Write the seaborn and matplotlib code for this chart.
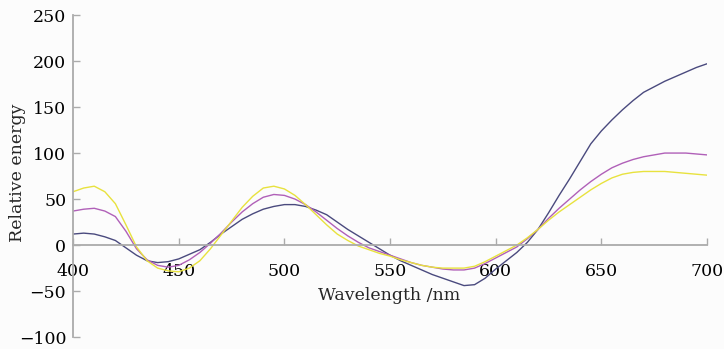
import matplotlib
matplotlib.use("Agg")
import matplotlib.pyplot as plt
import pandas as pd
import seaborn as sns

# wavelength grid (nm), 5 nm steps, and relative energy of the three curves
wavelength = list(range(400, 701, 5))
navy_curve = [12, 13, 12, 9, 5, -3, -11, -17, -19, -18,
              -15, -10, -5, 3, 12, 20, 28, 34, 39, 42,
              44, 44, 42, 38, 33, 25, 17, 10, 3, -4,
              -11, -17, -22, -27, -32, -36, -40, -44, -43, -36,
              -26, -17, -8, 3, 17, 35, 54, 72, 91, 110,
              124, 136, 147, 157, 166, 172, 178, 183, 188, 193,
              197]
purple_curve = [37, 39, 40, 37, 31, 15, -4, -16, -22, -24,
                -22, -16, -8, 2, 13, 25, 36, 45, 52, 55,
                54, 50, 44, 36, 27, 18, 10, 3, -3, -7,
                -11, -15, -19, -22, -24, -26, -27, -27, -25, -20,
                -14, -8, -2, 7, 17, 29, 40, 50, 60, 69,
                77, 84, 89, 93, 96, 98, 100, 100, 100, 99,
                98]
yellow_curve = [58, 62, 64, 58, 45, 22, -2, -17, -25, -28,
                -29, -25, -17, -4, 11, 26, 41, 53, 62, 64,
                61, 54, 44, 33, 22, 12, 5, -1, -5, -9,
                -12, -16, -19, -22, -24, -25, -25, -25, -23, -18,
                -12, -6, 0, 8, 17, 27, 36, 44, 52, 60,
                67, 73, 77, 79, 80, 80, 80, 79, 78, 77,
                76]

series_names = ["navy", "purple", "yellow"]
series_colors = ["#4a4a7e", "#b060b8", "#e8e23e"]
x_ticks = [400, 450, 500, 550, 600, 650, 700]
y_ticks = [-100, -50, 0, 50, 100, 150, 200, 250]

sns.set_theme(style="white")
plt.rcParams["font.family"] = ["DejaVu Serif"]

frames = []
for name, values in zip(series_names, [navy_curve, purple_curve, yellow_curve]):
    frames.append(pd.DataFrame({"wavelength": wavelength, "energy": values, "series": name}))
df = pd.concat(frames, ignore_index=True)

fig, ax = plt.subplots(figsize=(7.24, 3.49), dpi=100)
fig.patch.set_facecolor("#fcfcfc")
ax.set_facecolor("#fcfcfc")
fig.subplots_adjust(left=0.101, right=0.9765, top=0.957, bottom=0.034)

sns.lineplot(data=df, x="wavelength", y="energy", hue="series",
             palette=dict(zip(series_names, series_colors)), linewidth=1.0,
             legend=False, ax=ax)

ax.set_xlim(400, 700)
ax.set_ylim(-100, 250)
ax.set_xticks(x_ticks)
ax.set_yticks(y_ticks)

spine_color = "#ababab"
for side in ["top", "right"]:
    ax.spines[side].set_visible(False)
ax.spines["bottom"].set_position(("data", 0))
for side in ["bottom", "left"]:
    ax.spines[side].set_color(spine_color)
    ax.spines[side].set_linewidth(1.3)

ax.tick_params(axis="x", bottom=True, direction="in", length=5, width=1,
               color=spine_color, pad=13, labelsize=12.5, labelcolor="black")
ax.tick_params(axis="y", left=True, direction="in", length=5, width=1,
               color=spine_color, pad=5, labelsize=12.5, labelcolor="black")

ax.set_xlabel("Wavelength /nm", fontsize=12.5)
ax.set_ylabel("Relative energy", fontsize=12.5)
ax.xaxis.set_label_coords(0.498, 0.155)
ax.yaxis.set_label_coords(-0.074, 0.51)

fig.savefig("out.png", dpi=100, facecolor=fig.get_facecolor())
